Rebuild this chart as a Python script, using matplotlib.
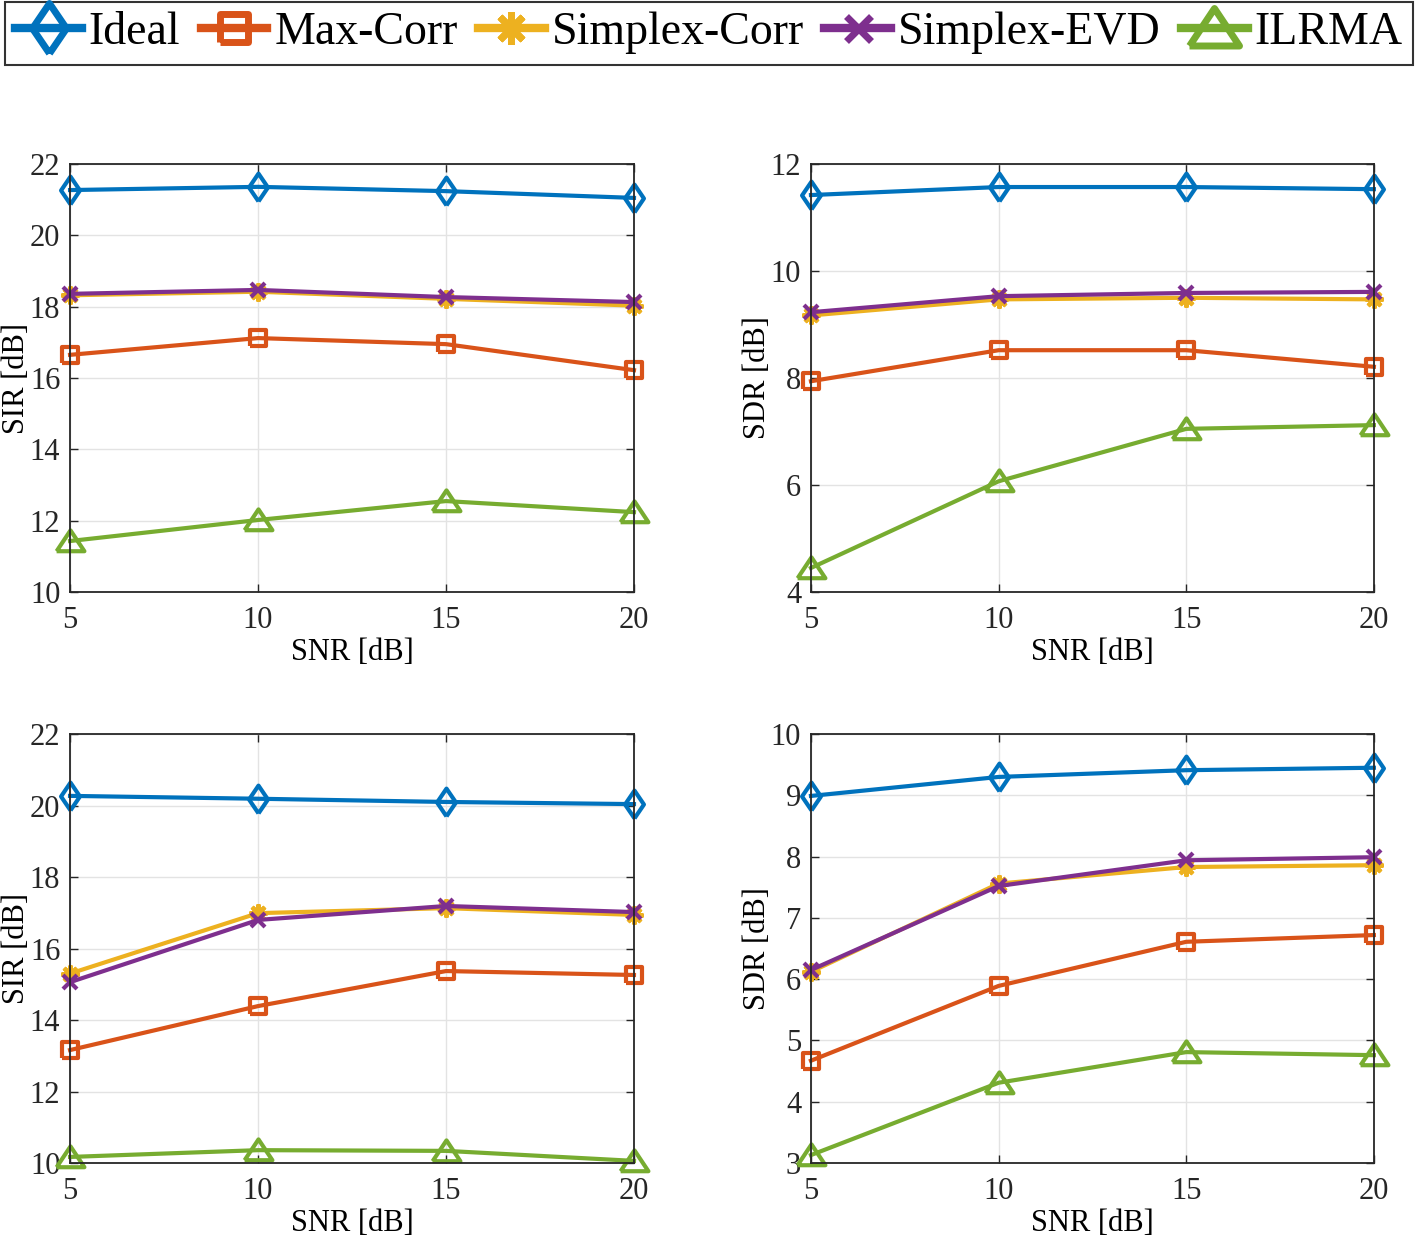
import numpy as np
import matplotlib
matplotlib.use("Agg")
import matplotlib.pyplot as plt

plt.rcParams["font.family"] = ["Liberation Serif", "DejaVu Serif"]

# data
snr = [5, 10, 15, 20]
methods = ["Ideal", "Max-Corr", "Simplex-Corr", "Simplex-EVD", "ILRMA"]

sir_top = {
    "Ideal": [21.27, 21.36, 21.24, 21.05],
    "Max-Corr": [16.65, 17.12, 16.95, 16.22],
    "Simplex-Corr": [18.32, 18.42, 18.22, 18.03],
    "Simplex-EVD": [18.36, 18.47, 18.27, 18.13],
    "ILRMA": [11.43, 12.02, 12.55, 12.24],
}
sdr_top = {
    "Ideal": [11.42, 11.57, 11.57, 11.53],
    "Max-Corr": [7.94, 8.52, 8.52, 8.21],
    "Simplex-Corr": [9.17, 9.47, 9.50, 9.47],
    "Simplex-EVD": [9.23, 9.53, 9.59, 9.61],
    "ILRMA": [4.45, 6.07, 7.05, 7.12],
}
sir_bot = {
    "Ideal": [20.27, 20.19, 20.10, 20.04],
    "Max-Corr": [13.16, 14.39, 15.37, 15.26],
    "Simplex-Corr": [15.30, 16.99, 17.13, 16.94],
    "Simplex-EVD": [15.06, 16.80, 17.19, 17.02],
    "ILRMA": [10.17, 10.36, 10.34, 10.06],
}
sdr_bot = {
    "Ideal": [8.99, 9.30, 9.41, 9.45],
    "Max-Corr": [4.67, 5.89, 6.61, 6.72],
    "Simplex-Corr": [6.12, 7.56, 7.83, 7.86],
    "Simplex-EVD": [6.15, 7.52, 7.94, 7.99],
    "ILRMA": [3.13, 4.31, 4.81, 4.76],
}

colors = ["#0072BD", "#D95319", "#EDB120", "#7E2F8E", "#77AC30"]
# MATLAB-like marker shapes
diamond = [(0, -1), (0.68, 0), (0, 1), (-0.68, 0), (0, -1)]
square = [(-0.5, -0.5), (0.5, -0.5), (0.5, 0.5), (-0.5, 0.5), (-0.5, -0.5)]
triangle = [(-0.5, -0.35), (0.5, -0.35), (0, 0.4), (-0.5, -0.35)]
markers = [diamond, square, (8, 2, 0), "x", triangle]
msizes = [20, 11.5, 13, 10, 20]

fig = plt.figure(figsize=(14.18, 12.37), dpi=100)

panels = [
    (sir_top, [0.0494, 0.5214, 0.3977, 0.346], "SIR [dB]", (10, 22), np.arange(10, 23, 2)),
    (sdr_top, [0.5719, 0.5214, 0.397, 0.346], "SDR [dB]", (4, 12), np.arange(4, 13, 2)),
    (sir_bot, [0.0494, 0.0598, 0.3977, 0.3468], "SIR [dB]", (10, 22), np.arange(10, 23, 2)),
    (sdr_bot, [0.5719, 0.0598, 0.397, 0.3468], "SDR [dB]", (3, 10), np.arange(3, 11, 1)),
]

handles = []
for data, pos, ylab, ylim, yticks in panels:
    ax = fig.add_axes(pos)
    for i, m in enumerate(methods):
        ln, = ax.plot(snr, data[m], color=colors[i], lw=3, marker=markers[i],
                      ms=msizes[i], mfc="none", mew=3, clip_on=False, label=m)
        if len(handles) < len(methods):
            handles.append(ln)
    ax.set_xlim(5, 20)
    ax.set_ylim(*ylim)
    ax.set_xticks(snr)
    ax.set_yticks(yticks)
    ax.grid(True, color="#e3e3e3", lw=1)
    ax.set_axisbelow(True)
    ax.tick_params(direction="in", length=6, width=1, top=True, right=True,
                   labelsize=22, colors="#262626")
    ax.tick_params(axis="x", pad=10)
    ax.tick_params(axis="y", pad=7)
    for s in ax.spines.values():
        s.set_color("#262626")
        s.set_linewidth(1.3)
    ax.set_xlabel("SNR [dB]", fontsize=22, labelpad=2)
    ax.set_ylabel(ylab, fontsize=22, labelpad=-1)

leg = fig.legend(handles, methods, loc="upper center", bbox_to_anchor=(0.5, 0.9985),
                 ncol=5, fontsize=33, frameon=True, fancybox=False,
                 edgecolor="black", handlelength=1.45, handletextpad=0.15,
                 columnspacing=0.45, borderpad=0.22, borderaxespad=0)
leg.get_frame().set_linewidth(1.5)
# legend symbols are drawn much larger than in the axes
for h, s in zip(leg.legend_handles, msizes):
    h.set_linewidth(6)
    h.set_markersize(s * 1.8)
    h.set_markeredgewidth(5)

fig.savefig("out.png", dpi=100)
